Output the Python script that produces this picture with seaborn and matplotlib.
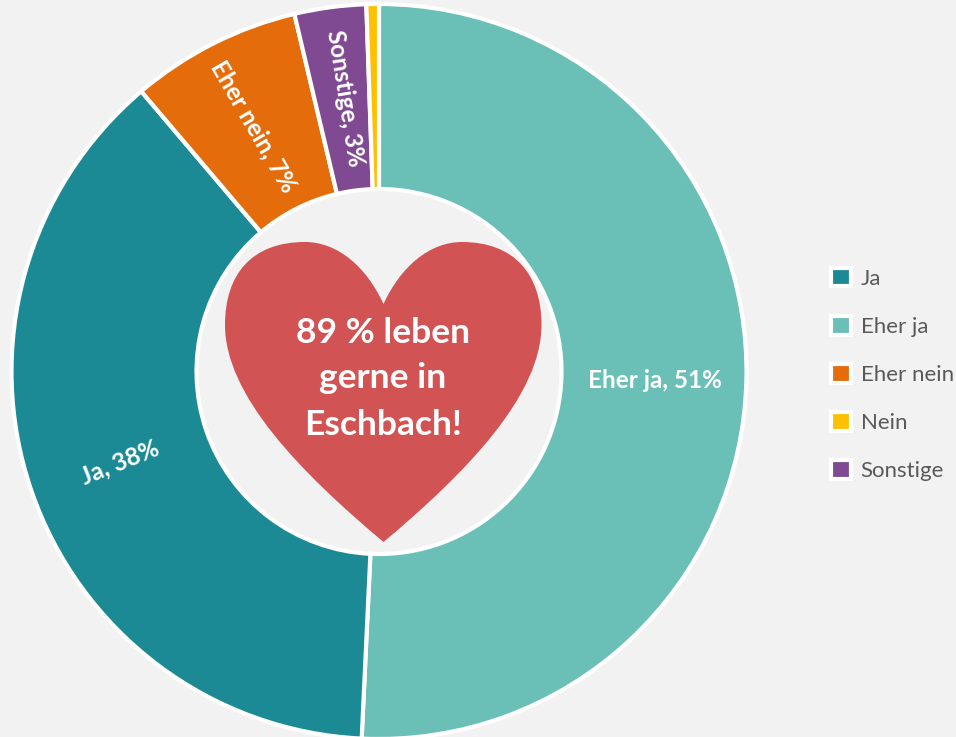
import matplotlib
matplotlib.use('Agg')
import matplotlib.pyplot as plt
from matplotlib.patches import Patch, PathPatch
from matplotlib.path import Path
import seaborn as sns

# legend order
legend_labels = ['Ja', 'Eher ja', 'Eher nein', 'Nein', 'Sonstige']
legend_colors = ['#1C8A95', '#6ABFB7', '#E56C0A', '#FFC000', '#7F4A92']

# clockwise from the top
slice_labels = ['Eher ja', 'Ja', 'Eher nein', 'Sonstige', 'Nein']
slice_values = [50.75, 38.05, 7.5, 3.15, 0.55]
slice_colors = ['#6ABFB7', '#1C8A95', '#E56C0A', '#7F4A92', '#FFC000']

bg = '#F2F2F2'

sns.set_theme(style='white', rc={'figure.facecolor': bg, 'axes.facecolor': bg})
plt.rcParams['font.family'] = ['Lato', 'DejaVu Sans']

fig = plt.figure(figsize=(9.56, 7.37), dpi=100)
ax = fig.add_axes([0, 0, 1, 1])

H = 737
cx, cy, R = 379, H - 371.5, 367.5

ax.pie(slice_values, colors=sns.color_palette(slice_colors), startangle=90, counterclock=False,
       center=(cx, cy), radius=R, frame=True,
       wedgeprops={'width': R - 182.5, 'edgecolor': 'white', 'linewidth': 3})

ax.set_xlim(0, 956)
ax.set_ylim(0, H)
ax.set_aspect('equal')
ax.set_xticks([])
ax.set_yticks([])
for s in ax.spines.values():
    s.set_visible(False)

# heart in the hole
heart = [(383.5, 304),
         (366, 266), (337, 242), (305, 242),
         (252, 242), (225, 274), (225, 325),
         (225, 395), (300, 472), (383.5, 542),
         (467, 472), (541.5, 395), (541.5, 325),
         (541.5, 274), (514, 242), (462, 242),
         (430, 242), (401, 266), (383.5, 304)]
codes = [Path.MOVETO] + [Path.CURVE4] * 18
ax.add_patch(PathPatch(Path([(x, H - y) for x, y in heart], codes), fc='#D25353', ec='none', zorder=5))

for txt, y in zip(['89 % leben', 'gerne in', 'Eschbach!'], [333, 378, 425]):
    ax.text(383, H - y, txt, color='white', fontsize=25.5, fontweight='bold', ha='center', va='center', zorder=6)

# data labels
point_labels = ['Eher ja, 51%', 'Ja, 38%', 'Eher nein, 7%', 'Sonstige, 3%']
label_x = [655, 120, 254, 345]
label_y = [380, 462, 126, 98]
label_rot = [0, 22, -60, -81]
for txt, x, y, r in zip(point_labels, label_x, label_y, label_rot):
    ax.text(x, H - y, txt, color='white', fontsize=17.5, fontweight='bold', ha='center', va='center',
            rotation=r, rotation_mode='anchor')

handles = [Patch(facecolor=c, edgecolor='white', linewidth=3) for c in legend_colors]
fig.legend(handles, legend_labels, loc='center left', bbox_to_anchor=(831 / 956, 1 - 374.5 / H),
           frameon=False, fontsize=16, labelcolor='#595959', handlelength=0.92, handleheight=0.92,
           handletextpad=0.42, labelspacing=1.22, borderpad=0, borderaxespad=0)

fig.savefig('out.png', dpi=100, facecolor=bg)
